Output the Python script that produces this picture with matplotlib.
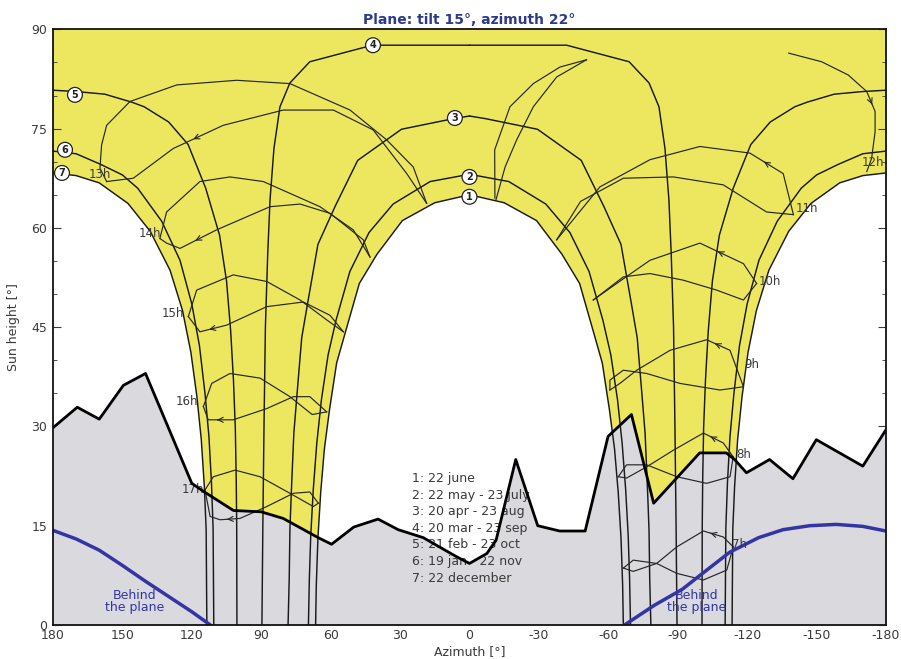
import numpy as np
import matplotlib
matplotlib.use('Agg')
import matplotlib.pyplot as plt

plt.rcParams['axes.unicode_minus'] = False

# ---- day curves: half path from solar noon to sunset (west side), east side is the mirror
c1_az = [0, 15, 29, 40, 47.6, 53, 57.4, 60.5, 62.7, 64.3, 65.5, 66.2, 66.5]
c1_h = [65.0, 63.8, 61.1, 56.0, 51.6, 45.0, 39.6, 32.5, 26.6, 20.0, 13.1, 6.0, 0]
c2_az = [0, 17, 33, 43.4, 51.7, 57.7, 61.1, 64, 66, 67.5, 68.6, 69.2, 69.6]
c2_h = [68.1, 67.0, 63.6, 59.3, 53.4, 46.0, 40.8, 34.0, 27.4, 20.5, 13.5, 7.0, 0]
c3_az = [0, 7, 29.4, 48.3, 58, 65.5, 70, 72.5, 74.5, 75.9, 77, 77.6, 77.9, 78.4]
c3_h = [76.9, 76.5, 74.9, 70.2, 63.3, 57.5, 48.5, 43.4, 35.0, 29.0, 20.0, 14.4, 7.0, 0]
c4_az = [0, 42, 69, 77.6, 81.9, 84.5, 86.2, 87.2, 88.2, 88.8, 89.3, 89.7]
c4_h = [87.6, 87.6, 85.1, 81.9, 78.3, 72.0, 64.2, 56.0, 45.0, 30.0, 15.0, 0]
c5_az = [180, 170, 157.6, 146, 140.6, 130, 121.6, 114, 108, 105, 103.2, 102, 101.2, 100.8, 100.6, 100.5]
c5_h = [80.8, 80.6, 80.2, 79.0, 78.3, 76.0, 72.6, 66.0, 58.9, 52.0, 44.4, 37.0, 29.8, 22.0, 15.0, 0]
c6_az = [180, 170, 159.4, 150, 143.4, 133, 125.1, 120, 116.7, 114.3, 112.6, 111.5, 110.8, 110.5]
c6_h = [71.6, 71.2, 69.6, 68.0, 66.0, 61.0, 55.1, 48.5, 42.2, 35.0, 28.5, 21.5, 14.6, 0]
c7_az = [180, 170, 160, 147.6, 138, 129.4, 124, 120.4, 117.8, 115.9, 114.6, 113.8, 113.5]
c7_h = [68.3, 67.9, 66.8, 63.7, 59.5, 53.6, 47.5, 41.2, 34.5, 28.0, 21.0, 14.4, 0]
day_curves = [(c1_az, c1_h), (c2_az, c2_h), (c3_az, c3_h), (c4_az, c4_h),
              (c5_az, c5_h), (c6_az, c6_h), (c7_az, c7_h)]

# ---- hour lines (two branches each: curve 7 end -> curve 1 end)
h07_a = [(-114, 11.8), (-109.7, 13.3), (-101.1, 14.2), (-89.6, 11.8), (-80.9, 9.3), (-70.8, 8.1), (-66.5, 8.6)]
h07_b = [(-114, 11.8), (-111.2, 8.3), (-101.1, 6.8), (-89.6, 7.8), (-80.9, 9.3), (-70.8, 9.8), (-66.5, 8.6)]
h08_a = [(-114, 25.4), (-109.7, 27.5), (-101.1, 29.0), (-88.1, 26.4), (-76.6, 23.9), (-67.9, 22.2), (-64.3, 22.4)]
h08_b = [(-114, 25.4), (-112.6, 22.4), (-102.5, 21.4), (-89.6, 22.4), (-76.6, 24.2), (-67.9, 24.2), (-64.3, 22.4)]
h09_a = [(-118.4, 36.0), (-112.6, 41.5), (-102.5, 43.1), (-86.7, 41.5), (-72.3, 38.5), (-65, 36.5), (-60.7, 35.5)]
h09_b = [(-118.4, 36.0), (-108.3, 35.5), (-91, 36.5), (-76.6, 38.0), (-66.5, 38.5), (-60.7, 37.0), (-60.7, 35.5)]
h10_a = [(-124.1, 51.6), (-118.4, 54.6), (-99.6, 57.7), (-78, 55.1), (-63.6, 51.6), (-53.5, 49.1)]
h10_b = [(-124.1, 51.6), (-118.4, 49.1), (-106.8, 50.6), (-92.4, 52.1), (-78, 53.1), (-66.5, 52.6), (-53.5, 49.1)]
h11_a = [(-140, 62.0), (-135.6, 68.2), (-121.2, 71.3), (-99.6, 72.3), (-78, 70.3), (-56.4, 66.2), (-37.7, 58.2)]
h11_b = [(-140, 62.0), (-128.4, 62.4), (-109.7, 66.5), (-88.1, 67.7), (-66.5, 67.5), (-48, 64.0), (-37.7, 58.2)]
h12_a = [(-11.5, 64.3), (-15.4, 69.2), (-20.4, 73.3), (-27.6, 78.3), (-37.7, 82.8), (-50.6, 85.4)]
h12_b = [(-11.0, 64.5), (-10.9, 71.8), (-17.5, 78.3), (-27.6, 81.8), (-39.1, 84.3), (-50.6, 85.4)]
h12_c = [(-138, 86.4), (-152.2, 85.1), (-163.7, 83.1), (-171.7, 80.6), (-175.3, 77.6), (-175.3, 74.5), (-173.8, 70.5), (-171.7, 68.5)]
h13_a = [(156.8, 67.0), (159.7, 69.0), (159, 72.5), (156.8, 75.5), (146.7, 79.1), (126.5, 81.6), (100.6, 82.3), (77.6, 81.8), (51.6, 77.8), (35.8, 73.3), (24.3, 69.2), (18.5, 63.7)]
h13_b = [(156.8, 67.0), (145.3, 67.5), (128, 72.0), (106.4, 75.5), (80.5, 77.8), (58.8, 77.8), (41.6, 74.8), (27.1, 68.2), (18.5, 63.7)]
h14_a = [(133.8, 58.4), (130.9, 62.4), (116.5, 67.0), (103.5, 67.7), (89.1, 67.0), (64.6, 63.2), (50.2, 59.7), (43, 55.6)]
h14_b = [(133.8, 58.4), (130.9, 57.7), (125.1, 56.9), (109.3, 59.7), (86.2, 63.2), (73.2, 63.6), (60.3, 62.2), (45.9, 58.2), (43, 55.6)]
h15_a = [(121.5, 46.6), (117.9, 50.6), (102.1, 52.9), (87.6, 51.9), (73.2, 49.1), (61.7, 46.1), (54.5, 44.3)]
h15_b = [(121.5, 46.6), (116.5, 44.3), (105, 45.3), (87.6, 48.1), (71.8, 48.8), (60.3, 46.8), (54.5, 44.3)]
h16_a = [(115, 33.0), (111.4, 36.5), (103.5, 38.0), (90.5, 37.3), (77.6, 34.5), (68, 31.8), (61.7, 32.2)]
h16_b = [(115, 33.0), (112.9, 31.0), (102.1, 31.0), (87.6, 32.7), (76.1, 34.5), (69, 34.5), (61.7, 32.2)]
h17_a = [(114.3, 20.4), (110.7, 22.4), (101.3, 23.4), (90.5, 22.4), (77.6, 19.9), (67.5, 17.9), (65.3, 18.4)]
h17_b = [(114.3, 20.4), (112.1, 16.4), (107.8, 15.9), (99.2, 16.1), (87.6, 17.9), (76.1, 19.9), (69, 20.1), (65.3, 18.4)]
hour_lines = [h07_a, h07_b, h08_a, h08_b, h09_a, h09_b, h10_a, h10_b, h11_a, h11_b,
              h12_a, h12_b, h12_c, h13_a, h13_b, h14_a, h14_b, h15_a, h15_b,
              h16_a, h16_b, h17_a, h17_b]
# arrow heads: (line, segment index)
arrows = [(h07_a, 1), (h08_a, 1), (h09_a, 1), (h10_a, 1), (h11_a, 1), (h12_c, 3),
          (h13_b, 2), (h14_b, 2), (h15_b, 1), (h16_b, 1), (h17_b, 2)]

hour_names = ['7h', '8h', '9h', '10h', '11h', '12h', '13h', '14h', '15h', '16h', '17h']
hour_lbl_az = [-116.9, -118.4, -122, -129.9, -145.7, -174.4, 159.7, 138.1, 128, 122.2, 119.4]
hour_lbl_h = [12.1, 25.8, 39.3, 51.9, 63.0, 69.9, 68.0, 59.2, 47.1, 33.7, 20.4]

# ---- horizon profile
hor_az = [180, 169.5, 160, 149.6, 140, 120, 115, 102, 90, 80.5, 65.4, 59.6, 50, 39.5, 30.8, 20, 5.5, 0,
          -7.5, -11.5, -20, -29.5, -39, -50, -59.9, -70, -79.6, -99.5, -111, -114.6, -119.7, -129.7,
          -139.8, -149.9, -170, -180]
hor_h = [29.8, 32.9, 31.1, 36.2, 38.0, 21.4, 20.2, 17.3, 17.1, 16.1, 13.2, 12.2, 14.8, 16.0, 14.4, 13.2, 10.3, 9.3,
         10.8, 12.8, 25.0, 15.0, 14.2, 14.2, 28.5, 31.8, 18.4, 26.0, 26.0, 25.0, 23.0, 25.0,
         22.1, 28.0, 24.0, 29.5]

# ---- plane horizon ("behind the plane")
pl_left_az = [180, 170, 160, 150, 140, 130, 120, 112]
pl_left_h = [14.3, 13.0, 11.3, 9.0, 6.6, 4.3, 2.0, 0]
pl_right_az = [-67, -80, -92, -100, -112.5, -125, -135.5, -147, -158.5, -170, -180]
pl_right_h = [0, 3.0, 5.4, 7.6, 11.0, 13.2, 14.4, 15.0, 15.2, 14.9, 14.2]

curve_ids = ['1', '2', '3', '4', '5', '6', '7']
id_az = [0, 0, 6.3, 41.7, 170.5, 174.8, 176.1]
id_h = [64.7, 67.7, 76.6, 87.6, 80.1, 71.8, 68.3]

legend_lines = ['1: 22 june', '2: 22 may - 23 july', '3: 20 apr - 23 aug', '4: 20 mar - 23 sep',
                '5: 21 feb - 23 oct', '6: 19 jan - 22 nov', '7: 22 december']

YELLOW = '#ede75f'
GRAY = '#d9d9de'
BLUE = '#3434a4'
TXT = '#3a3a3a'

fig = plt.figure(figsize=(9.01, 6.59), dpi=100)
ax = fig.add_axes([0.0588, 0.0516, 0.9245, 0.9039])
ax.set_xlim(180, -180)
ax.set_ylim(0, 90)

# sun area (yellow) between curve 7 and curve 1
c1a, c1h = np.array(c1_az), np.array(c1_h)
c7a, c7h = np.array(c7_az), np.array(c7_h)
px = np.concatenate([c7a, c1a[::-1], -c1a, -c7a[::-1], [-180, 180]])
py = np.concatenate([c7h, c1h[::-1], c1h, c7h[::-1], [90, 90]])
ax.fill(px, py, color=YELLOW, lw=0, zorder=1)

# horizon
ax.fill_between(hor_az, hor_h, 0, color=GRAY, lw=0, zorder=2)
ax.plot(hor_az, hor_h, color='k', lw=2.0, zorder=7)

# day curves
for az, h in day_curves:
    az = np.array(az)
    ax.plot(az, h, color='#1a1a1a', lw=1.05, zorder=4)
    ax.plot(-az, h, color='#1a1a1a', lw=1.05, zorder=4)

# hour lines
for line in hour_lines:
    a = [p[0] for p in line]
    h = [p[1] for p in line]
    ax.plot(a, h, color='#262626', lw=0.85, zorder=4)
for line, i in arrows:
    (x0, y0), (x1, y1) = line[i], line[i + 1]
    if x0 > 0:
        (x0, y0), (x1, y1) = (x1, y1), (x0, y0)
    xm, ym = (x0 + x1) / 2, (y0 + y1) / 2
    ax.annotate('', xy=(xm + (x1 - x0) * 0.15, ym + (y1 - y0) * 0.15), xytext=(xm, ym),
                arrowprops=dict(arrowstyle='->', color='#262626', lw=0.8, mutation_scale=9), zorder=5)

for name, a, h in zip(hour_names, hour_lbl_az, hour_lbl_h):
    ax.text(a, h, name, fontsize=8.5, color=TXT, ha='center', va='center', zorder=6)

# plane line
ax.plot(pl_left_az, pl_left_h, color=BLUE, lw=2.5, zorder=5)
ax.plot(pl_right_az, pl_right_h, color=BLUE, lw=2.5, zorder=5)
ax.text(144.6, 3.6, 'Behind\nthe plane', color=BLUE, fontsize=9, ha='center', va='center',
        linespacing=0.9, zorder=6)
ax.text(-98.2, 3.6, 'Behind\nthe plane', color=BLUE, fontsize=9, ha='center', va='center',
        linespacing=0.9, zorder=6)

for cid, a, h in zip(curve_ids, id_az, id_h):
    ax.text(a, h, cid, fontsize=7, fontweight='bold', color='#222', ha='center', va='center', zorder=8,
            bbox=dict(boxstyle='circle,pad=0.25', fc='white', ec='#222', lw=0.9))

for i, s in enumerate(legend_lines):
    ax.text(25.0, 22.1 - i * 2.5, s, fontsize=9, color=TXT, ha='left', va='center', zorder=6)

ax.set_xticks([180, 150, 120, 90, 60, 30, 0, -30, -60, -90, -120, -150, -180])
ax.set_yticks([0, 15, 30, 45, 60, 75, 90])
ax.set_yticks(np.arange(0, 91, 5), minor=True)
ax.tick_params(axis='y', which='both', direction='in', left=True, right=True, colors=TXT,
               labelsize=9, pad=4)
ax.tick_params(axis='y', which='major', length=6)
ax.tick_params(axis='y', which='minor', length=3)
ax.tick_params(axis='x', direction='in', length=0, colors=TXT, labelsize=9, pad=3)
for sp in ax.spines.values():
    sp.set_linewidth(1.3)
    sp.set_color('#111')
    sp.set_zorder(9)

ax.set_title('Plane: tilt 15°, azimuth 22°', fontsize=10, fontweight='bold', color='#2d3a8c', pad=4)
ax.set_xlabel('Azimuth [°]', fontsize=9, color=TXT, labelpad=2)
ax.set_ylabel('Sun height [°]', fontsize=9, color=TXT, labelpad=8)

fig.savefig('out.png', dpi=100)
